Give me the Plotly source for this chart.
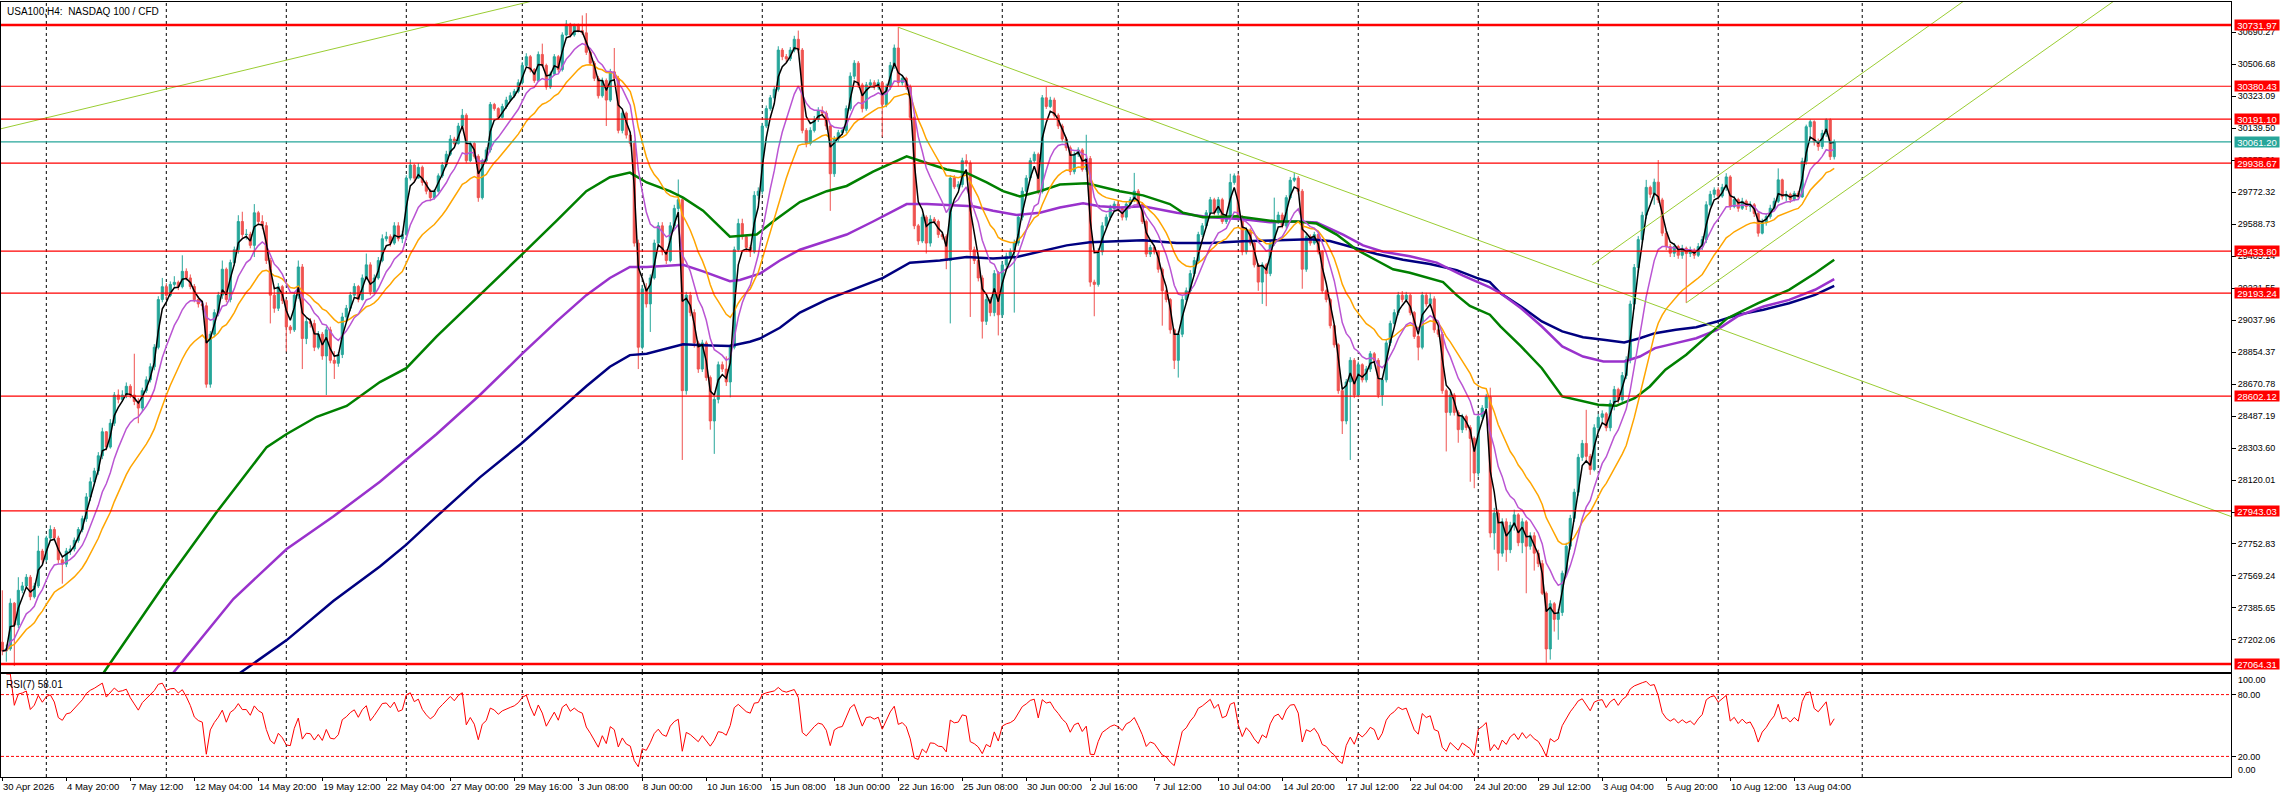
import numpy as np
import pandas as pd
import plotly.graph_objects as go

# ---- H4 bars (bar index 0 = 30 Apr 2026 04:00) ----
first_open = 27189
closes = [
    27139, 27151, 27413, 27288, 27487, 27512, 27562, 27450, 27512, 27712,
    27662, 27787, 27836, 27787, 27662, 27637, 27712, 27724, 27774, 27836,
    27898, 28023, 28110, 28172, 28259, 28397, 28309, 28446, 28608, 28583,
    28608, 28658, 28608, 28571, 28533, 28633, 28695, 28770, 28882, 29156,
    29230, 29180, 29243, 29255, 29230, 29318, 29280, 29231, 29156, 29131,
    29120, 28670, 28957, 29081, 29181, 29330, 29156, 29368, 29442, 29604,
    29529, 29530, 29467, 29654, 29604, 29580, 29380, 29181, 29106, 29230,
    29150, 28999, 28982, 29181, 29343, 28932, 29030, 29019, 28882, 28957,
    28832, 28982, 28807, 28790, 28840, 29056, 29106, 29181, 29231, 29156,
    29280, 29355, 29200, 29280, 29380, 29505, 29517, 29480, 29579, 29505,
    29530, 29853, 29928, 29853, 29915, 29828, 29778, 29741, 29778, 29866,
    29928, 29990, 30077, 30052, 30152, 30214, 29953, 30052, 29978, 29741,
    29953, 30015, 30276, 30252, 30202, 30264, 30301, 30326, 30351, 30401,
    30500, 30550, 30476, 30413, 30563, 30500, 30376, 30451, 30550, 30476,
    30675, 30737, 30675, 30725, 30700, 30687, 30575, 30513, 30426, 30326,
    30413, 30301, 30463, 30426, 30127, 30226, 30100, 30052, 29480, 28882,
    29218, 29131, 29280, 29480, 29579, 29430, 29380, 29579, 29679, 29729,
    28633, 29181, 29081, 28907, 28757, 28907, 28708, 28459, 28583, 28782,
    28757, 28683, 28882, 29442, 29592, 29517, 29455, 29430, 29754, 29778,
    30152, 30252, 30314, 30363, 30588, 30550, 30538, 30588, 30650, 30588,
    30127, 30052, 30127, 30189, 30239, 30226, 30152, 29878, 30077, 30114,
    30127, 30252, 30438, 30513, 30388, 30252, 30388, 30401, 30376, 30401,
    30276, 30376, 30500, 30600, 30401, 30426, 30376, 30202, 29579, 29492,
    29629, 29480, 29617, 29604, 29529, 29517, 29380, 29853, 29803, 29816,
    29953, 29940, 29442, 29380, 29280, 29031, 29156, 29081, 29305, 29068,
    29355, 29405, 29430, 29480, 29629, 29778, 29853, 29953, 29990, 29778,
    30314, 30264, 30301, 30214, 30152, 30077, 30027, 29890, 29990, 30015,
    29903, 29965, 29256, 29243, 29430, 29579, 29629, 29679, 29704, 29679,
    29629, 29704, 29729, 29778, 29704, 29604, 29417, 29455, 29430, 29330,
    29206, 29156, 28982, 28807, 28957, 29156, 29206, 29305, 29380, 29529,
    29579, 29654, 29729, 29654, 29729, 29604, 29629, 29828, 29866, 29629,
    29430, 29554, 29480, 29355, 29256, 29355, 29305, 29480, 29604, 29641,
    29579, 29741, 29841, 29853, 29778, 29330, 29517, 29480, 29529, 29430,
    29206, 29156, 29006, 28896, 28633, 28459, 28683, 28807, 28608, 28782,
    28695, 28757, 28845, 28807, 28608, 28695, 28907, 29019, 29081, 29181,
    29156, 29181, 29081, 28944, 28882, 29181, 29131, 29160, 28982, 28957,
    28633, 28508, 28608, 28508, 28409, 28484, 28421, 28359, 28160, 28484,
    28533, 28596, 27816, 27930, 27700, 27880, 27720, 27860, 27920, 27760,
    27880, 27740, 27800, 27700, 27640, 27470, 27150, 27410, 27320, 27360,
    27585, 27740, 27900, 28050, 28250, 28330, 28256, 28180, 28420, 28480,
    28500, 28420, 28560, 28640, 28580, 28720, 28810, 29130, 29340, 29500,
    29640, 29800, 29760, 29830, 29728, 29537, 29460, 29422, 29460, 29410,
    29450, 29420, 29440, 29410, 29460, 29500, 29700, 29760, 29785, 29750,
    29800, 29860, 29690, 29730, 29680, 29720, 29690, 29700, 29650, 29537,
    29600, 29632, 29680, 29720, 29843, 29747, 29760, 29730, 29766, 29745,
    29950, 30148, 30177, 30060, 30034, 30110, 30187, 29976, 30061.2,
]
highs = [
    27487, 27175, 27440, 27420, 27562, 27535, 27580, 27575, 27530, 27800,
    27725, 27800, 27860, 27850, 27800, 27680, 27730, 27745, 27790, 27850,
    27915, 28045, 28135, 28190, 28280, 28420, 28400, 28470, 28625, 28640,
    28635, 28680, 28670, 28845, 28590, 28650, 28715, 28790, 28900, 29175,
    29280, 29250, 29260, 29290, 29265, 29410, 29335, 29300, 29245, 29175,
    29150, 29140, 28975, 29100, 29200, 29380, 29340, 29385, 29460, 29640,
    29660, 29560, 29545, 29704, 29665, 29640, 29600, 29395, 29230, 29250,
    29240, 29160, 29010, 29200, 29380, 29360, 29050, 29050, 29040, 28975,
    28970, 29000, 29000, 28860, 28855, 29080, 29125, 29200, 29250, 29240,
    29300, 29420, 29370, 29300, 29400, 29530, 29545, 29530, 29600, 29600,
    29550, 29870, 29960, 29935, 29940, 29925, 29840, 29790, 29790, 29880,
    29945, 30010, 30100, 30090, 30170, 30250, 30225, 30065, 30060, 29990,
    29965, 30030, 30290, 30285, 30260, 30280, 30320, 30345, 30365, 30420,
    30520, 30570, 30560, 30485, 30580, 30625, 30510, 30465, 30565, 30560,
    30690, 30760, 30745, 30740, 30740, 30787, 30800, 30585, 30525, 30440,
    30430, 30425, 30480, 30600, 30440, 30240, 30235, 30120, 30070, 29500,
    29240, 29250, 29300, 29500, 29600, 29600, 29445, 29600, 29700, 29845,
    29750, 29200, 29200, 29100, 28920, 28925, 28920, 28720, 28600, 28800,
    28800, 28830, 28900, 29460, 29620, 29620, 29530, 29470, 29778, 29800,
    30170, 30270, 30330, 30380, 30610, 30600, 30565, 30605, 30670, 30700,
    30600, 30140, 30145, 30210, 30260, 30265, 30240, 30165, 30095, 30130,
    30145, 30270, 30460, 30530, 30525, 30400, 30405, 30420, 30415, 30420,
    30410, 30395, 30520, 30620, 30720, 30445, 30435, 30390, 30215, 29590,
    29645, 29640, 29640, 29630, 29615, 29540, 29530, 29870, 29870, 29835,
    29970, 29990, 29955, 29460, 29395, 29295, 29175, 29170, 29325, 29320,
    29375, 29425, 29450, 29500, 29645, 29800, 29870, 29970, 30005, 30000,
    30330, 30376, 30320, 30315, 30225, 30165, 30090, 30040, 30005, 30030,
    30025, 30102, 29980, 29270, 29450, 29600, 29645, 29700, 29720, 29720,
    29690, 29720, 29745, 29883, 29790, 29715, 29615, 29470, 29465, 29440,
    29340, 29215, 29165, 28990, 28975, 29175, 29225, 29325, 29400, 29545,
    29595, 29670, 29745, 29740, 29745, 29740, 29645, 29878, 29880, 29880,
    29640, 29570, 29565, 29490, 29365, 29370, 29365, 29495, 29741, 29660,
    29655, 29755, 29860, 29883, 29865, 29790, 29535, 29530, 29545, 29540,
    29440, 29215, 29165, 29015, 28905, 28645, 28700, 28825, 28820, 28800,
    28790, 28775, 28860, 28855, 28820, 28710, 28925, 29035, 29100, 29200,
    29205, 29200, 29190, 29090, 28955, 29200, 29195, 29195, 29175, 28995,
    28970, 28645, 28625, 28620, 28520, 28500, 28495, 28435, 28370, 28500,
    28550, 28615, 28650, 27960, 27950, 27900, 27900, 27880, 27950, 27930,
    27900, 27890, 27820, 27820, 27720, 27660, 27480, 27430, 27420, 27380,
    27600, 27760, 27920, 28070, 28270, 28350, 28523, 28270, 28440, 28500,
    28520, 28510, 28580, 28660, 28650, 28740, 28830, 29150, 29360, 29520,
    29660, 29843, 29810, 29850, 29957, 29740, 29550, 29475, 29480, 29470,
    29470, 29460, 29460, 29450, 29480, 29520, 29720, 29780, 29800, 29800,
    29820, 29881, 29870, 29750, 29740, 29740, 29730, 29720, 29710, 29660,
    29620, 29650, 29700, 29740, 29909, 29850, 29780, 29770, 29780, 29780,
    29970, 30160, 30190, 30185, 30080, 30130, 30196, 30196, 30075,
]
lows = [
    27114, 27077, 27140, 27052, 27270, 27470, 27500, 27430, 27440, 27500,
    27640, 27650, 27775, 27770, 27640, 27525, 27620, 27690, 27710, 27760,
    27820, 27880, 28000, 28090, 28150, 28240, 28290, 28300, 28430, 28560,
    28570, 28590, 28590, 28550, 28446, 28510, 28620, 28680, 28750, 28870,
    29140, 29160, 29170, 29230, 29210, 29220, 29265, 29215, 29140, 29110,
    29095, 28650, 28650, 28940, 29060, 29160, 29140, 29140, 29350, 29420,
    29510, 29500, 29450, 29400, 29585, 29560, 29360, 29019, 29080, 29090,
    29130, 28857, 28960, 28970, 29160, 28757, 28900, 28995, 28860, 28870,
    28810, 28608, 28790, 28700, 28770, 28820, 29030, 29090, 29165, 29140,
    29150, 29270, 29180, 29190, 29270, 29370, 29490, 29460, 29470, 29490,
    29480, 29520, 29840, 29830, 29850, 29810, 29760, 29720, 29730, 29770,
    29855, 29915, 29980, 30040, 30045, 30140, 29940, 29945, 29965, 29717,
    29730, 29940, 30000, 30240, 30190, 30195, 30250, 30290, 30315, 30340,
    30390, 30490, 30460, 30400, 30405, 30490, 30360, 30365, 30440, 30460,
    30465, 30665, 30660, 30665, 30690, 30675, 30560, 30500, 30410, 30310,
    30315, 30152, 30290, 30410, 30110, 30110, 30080, 30035, 29460, 28757,
    28870, 29110, 28970, 29270, 29470, 29410, 29360, 29370, 29560, 29660,
    28235, 28610, 29060, 28880, 28735, 28740, 28690, 28409, 28270, 28560,
    28740, 28660, 28595, 28870, 29430, 29500, 29430, 29400, 29420, 29730,
    29760, 30140, 30240, 30300, 30350, 30530, 30520, 30525, 30575, 30570,
    30110, 30030, 30040, 30115, 30175, 30205, 30130, 29665, 29860, 30060,
    30100, 30110, 30240, 30420, 30370, 30230, 30240, 30375, 30360, 30360,
    30090, 30260, 30360, 30480, 30380, 30385, 30360, 30185, 29560, 29470,
    29480, 29420, 29460, 29590, 29510, 29500, 29330, 29019, 29790, 29790,
    29800, 29920, 29056, 29360, 29260, 28932, 29010, 29060, 29060, 28950,
    29050, 29340, 29390, 29081, 29465, 29610, 29760, 29840, 29940, 29760,
    29765, 30250, 30255, 30200, 30135, 30060, 30010, 29870, 29875, 29975,
    29890, 29890, 29230, 29060, 29230, 29410, 29560, 29610, 29660, 29660,
    29610, 29610, 29690, 29715, 29690, 29590, 29400, 29400, 29415, 29310,
    29006, 29140, 28960, 28757, 28708, 28940, 29140, 29190, 29290, 29365,
    29515, 29565, 29640, 29640, 29640, 29590, 29590, 29615, 29815, 29610,
    29410, 29415, 29465, 29340, 29206, 29131, 29118, 29290, 29465, 29590,
    29565, 29565, 29730, 29830, 29760, 29218, 29315, 29465, 29470, 29415,
    29190, 29140, 28990, 28880, 28615, 28384, 28440, 28235, 28590, 28595,
    28680, 28680, 28740, 28790, 28590, 28546, 28680, 28890, 29005, 29065,
    29140, 29140, 29065, 28930, 28807, 28870, 29115, 29110, 28965, 28940,
    28615, 28284, 28490, 28490, 28334, 28390, 28405, 28110, 28073, 28140,
    28470, 28520, 27790, 27720, 27600, 27680, 27650, 27700, 27830, 27740,
    27700, 27470, 27720, 27600, 27620, 27460, 27070, 27089, 27250, 27203,
    27340, 27570, 27720, 27880, 28030, 28230, 28230, 28150, 28170, 28400,
    28450, 28400, 28400, 28520, 28560, 28560, 28700, 28790, 29100, 29310,
    29480, 29620, 29740, 29700, 29710, 29520, 29440, 29400, 29400, 29390,
    29390, 29137, 29400, 29390, 29400, 29440, 29480, 29690, 29740, 29730,
    29740, 29780, 29670, 29680, 29660, 29670, 29670, 29660, 29630, 29517,
    29530, 29580, 29620, 29670, 29710, 29730, 29720, 29710, 29720, 29730,
    29740, 29930, 30080, 30040, 30010, 30020, 30090, 29957, 29960,
]

# ---- long moving averages, sampled off the chart (bar, price) ----
green_x = [20, 26.1, 41, 53.6, 66.1, 71.1, 78.6, 86.1, 94.4, 101, 108.6, 119.4, 130, 138.6, 146,
           151.9, 156.9, 161.1, 166.9, 170.2, 175.2, 181.9, 188.6, 192.7, 199.4, 206.1, 211.1, 217.7,
           226.1, 231.1, 236.1, 241.1, 246.1, 250.2, 254.4, 259.4, 264.4, 271.1, 279.4, 285.2, 291.9,
           295.2, 300.2, 308.6, 314.4, 318.6, 323.6, 328.6, 333.6, 338.6, 343.6, 347.7, 351.9, 356.9,
           360.2, 363.6, 366.9, 371.9, 374.6, 379.7, 384.9, 390, 395.2, 399, 403.5, 408.1, 411.9,
           415.8, 421, 426.1, 431.3, 439, 446.7, 453.2, 458]
green_y = [26840, 27039, 27537, 27936, 28309, 28384, 28483, 28545, 28682, 28762, 28944, 29181, 29417,
           29609, 29778, 29858, 29885, 29828, 29778, 29741, 29666, 29517, 29529, 29604, 29716, 29778,
           29808, 29890, 29978, 29940, 29903, 29883, 29828, 29778, 29748, 29778, 29816, 29823, 29778,
           29754, 29704, 29654, 29629, 29634, 29617, 29604, 29604, 29592, 29529, 29442, 29380, 29330,
           29310, 29280, 29256, 29181, 29119, 29069, 29001, 28887, 28762, 28600, 28571, 28552, 28546,
           28590, 28657, 28753, 28839, 28944, 29049, 29135, 29212, 29307, 29384]

purple_x = [38, 43.6, 57.75, 71.1, 82.75, 94.4, 101, 108.6, 119.4, 130, 138.6, 146, 151.9, 156.9,
            161.1, 166.9, 170.2, 175.2, 181.9, 184.4, 189.4, 194.4, 199.4, 206.1, 211.1, 217.7, 226.1,
            231.1, 237.7, 242.7, 247.7, 253.6, 259.4, 264.4, 270.2, 274.4, 279.4, 285.2, 293.6, 301.9,
            310.2, 316.9, 323.6, 328.6, 335.2, 340.2, 345.2, 351.9, 358.6, 365.2, 371.9, 374.6, 379.7,
            384.9, 390, 395.2, 400.3, 405.5, 409.4, 413.2, 418.4, 423.5, 428.7, 433.8, 440.3, 446.7,
            453.2, 458]
purple_y = [26880, 27039, 27437, 27724, 27910, 28110, 28235, 28384, 28608, 28845, 29031, 29181, 29280,
            29343, 29343, 29350, 29355, 29318, 29261, 29268, 29305, 29380, 29442, 29492, 29529, 29604,
            29704, 29704, 29699, 29691, 29666, 29642, 29654, 29684, 29709, 29691, 29684, 29691, 29654,
            29629, 29617, 29599, 29604, 29599, 29529, 29467, 29430, 29405, 29368, 29293, 29226, 29192,
            29106, 29001, 28887, 28829, 28800, 28800, 28829, 28877, 28906, 28934, 28982, 29059, 29116,
            29154, 29212, 29273]

navy_x = [54, 61.1, 71.1, 82.75, 94.4, 101, 108.6, 119.4, 130, 138.6, 146, 151.9, 156.9, 161.1, 166.9,
          170.2, 175.2, 181.9, 186.9, 189.4, 194.4, 199.4, 206.1, 211.9, 220.2, 226.9, 234.4, 241.1,
          247.7, 253.6, 259.4, 266.1, 271.9, 279.4, 285.2, 293.6, 301.9, 310.2, 318.6, 326.9, 331.9,
          336.9, 343.6, 350.2, 356.9, 363.6, 368.6, 371.9, 374.6, 379.7, 384.9, 390, 395.2, 400.3,
          405.5, 409.4, 413.2, 418.4, 423.5, 428.7, 433.8, 440.3, 446.7, 453.2, 458]
navy_y = [26925, 27039, 27201, 27425, 27624, 27749, 27911, 28135, 28334, 28508, 28658, 28770, 28837,
          28845, 28882, 28899, 28894, 28889, 28914, 28932, 28994, 29081, 29156, 29206, 29280, 29367,
          29380, 29400, 29392, 29400, 29430, 29467, 29485, 29490, 29497, 29480, 29480, 29490, 29497,
          29502, 29492, 29460, 29417, 29385, 29360, 29325, 29280, 29256, 29192, 29116, 29030, 28973,
          28940, 28925, 28909, 28934, 28963, 28982, 28997, 29030, 29068, 29097, 29135, 29183, 29234]

# ---- drawn objects ----
levels = [30731.97, 30380.43, 30191.10, 29938.67, 29433.80, 29193.24, 28602.12, 27943.03, 27064.31]
thick_levels = [30731.97, 27064.31]
bid_price = 30061.20

trend_up_x, trend_up_y = [-10, 140], [30083, 30911]
trend_down_x, trend_down_y = [224, 560], [30719, 27887]
channel_a_x, channel_a_y = [397.5, 500], [29355, 31026]
channel_b_x, channel_b_y = [421, 530], [29137, 30903]

price_ticks = [30690.27, 30506.68, 30323.09, 30139.50, 29955.91, 29772.32, 29588.73, 29405.14,
               29221.55, 29037.96, 28854.37, 28670.78, 28487.19, 28303.60, 28120.01, 27936.42,
               27752.83, 27569.24, 27385.65, 27202.06]
date_labels = ["30 Apr 2026", "4 May 20:00", "7 May 12:00", "12 May 04:00", "14 May 20:00",
               "19 May 12:00", "22 May 04:00", "27 May 00:00", "29 May 16:00", "3 Jun 08:00",
               "8 Jun 00:00", "10 Jun 16:00", "15 Jun 08:00", "18 Jun 00:00", "22 Jun 16:00",
               "25 Jun 08:00", "30 Jun 00:00", "2 Jul 16:00", "7 Jul 12:00", "10 Jul 04:00",
               "14 Jul 20:00", "17 Jul 12:00", "22 Jul 04:00", "24 Jul 20:00", "29 Jul 12:00",
               "3 Aug 04:00", "5 Aug 20:00", "10 Aug 12:00", "13 Aug 04:00"]
week_starts = [11, 41, 71, 101, 130, 160, 190, 220, 250, 279, 309, 339, 369, 399, 429, 465]

# ---- derived series ----
n = len(closes)
bars = list(range(n))
opens = [first_open] + closes[:-1]
s = pd.Series(closes, dtype=float)
ma_fast = s.ewm(span=3, adjust=False).mean()
ma_mid = s.ewm(span=10, adjust=False).mean()
ma_slow = s.ewm(span=21, adjust=False).mean()
d = s.diff()
gain = d.clip(lower=0).ewm(alpha=1 / 7, adjust=False).mean()
loss = (-d.clip(upper=0)).ewm(alpha=1 / 7, adjust=False).mean()
rsi = 100 - 100 / (1 + gain / loss)

label_pos = [16 * k for k in range(len(date_labels))]
FONT = "Liberation Sans"
xr = [-0.33, 557.2]

fig = go.Figure()
fig.add_trace(go.Candlestick(
    x=bars, open=opens, high=highs, low=lows, close=closes,
    increasing=dict(line=dict(color="#26a69a", width=1), fillcolor="#26a69a"),
    decreasing=dict(line=dict(color="#ef5350", width=1), fillcolor="#ef5350"),
    whiskerwidth=0, showlegend=False, hoverinfo="skip"))

for xs, ys, col, w in [
    (navy_x, navy_y, "#000080", 2.5),
    (purple_x, purple_y, "#9932cc", 2.5),
    (green_x, green_y, "#008000", 2.5),
    (bars, ma_slow, "#ffa500", 1.5),
    (bars, ma_mid, "#ba55d3", 1.5),
    (bars, ma_fast, "#000000", 1.5),
]:
    fig.add_trace(go.Scatter(x=xs, y=ys, mode="lines", line=dict(color=col, width=w),
                             showlegend=False, hoverinfo="skip"))

for xs, ys in [(trend_up_x, trend_up_y), (trend_down_x, trend_down_y),
               (channel_a_x, channel_a_y), (channel_b_x, channel_b_y)]:
    fig.add_trace(go.Scatter(x=xs, y=ys, mode="lines", line=dict(color="#9acd32", width=1),
                             showlegend=False, hoverinfo="skip"))

fig.add_trace(go.Scatter(x=bars, y=rsi, mode="lines", line=dict(color="#ff0000", width=1),
                         xaxis="x2", yaxis="y2", showlegend=False, hoverinfo="skip"))

shapes = []
for w in week_starts:
    for xref, yref in [("x", "y domain"), ("x2", "y2 domain")]:
        shapes.append(dict(type="line", xref=xref, yref=yref, x0=w, x1=w, y0=0, y1=1, layer="below",
                           line=dict(color="black", width=1, dash="3px,3px")))
for lv in levels:
    shapes.append(dict(type="line", xref="x domain", yref="y", x0=0, x1=1, y0=lv, y1=lv,
                       line=dict(color="#ff0000", width=2.5 if lv in thick_levels else 1.2)))
shapes.append(dict(type="line", xref="x domain", yref="y", x0=0, x1=1, y0=bid_price, y1=bid_price,
                   line=dict(color="#26a69a", width=1.2)))
for lv in [80, 20]:
    shapes.append(dict(type="line", xref="x2 domain", yref="y2", x0=0, x1=1, y0=lv, y1=lv,
                       line=dict(color="#ff0000", width=1, dash="3px,2px")))

ann = []
box = dict(x=1, xref="paper", yref="y", showarrow=False, xanchor="left", yanchor="middle",
           xshift=3, width=44, height=10, borderpad=0, align="center", valign="middle",
           font=dict(family=FONT, size=9.5, color="white"))
for lv in levels:
    ann.append(dict(box, y=lv, text=f"{lv:.2f}", bgcolor="#ff0000"))
ann.append(dict(box, y=bid_price, text=f"{bid_price:.2f}", bgcolor="#26a69a"))
ann.append(dict(x=0, xref="paper", y=1, yref="paper", text="USA100,H4:\u00a0 NASDAQ 100 / CFD",
                showarrow=False, xanchor="left", yanchor="top", xshift=4, yshift=-2,
                font=dict(family=FONT, size=10, color="black")))
ann.append(dict(x=0, xref="paper", y=100, yref="y2", text="RSI(7) 58.01", showarrow=False,
                xanchor="left", yanchor="top", xshift=3, yshift=-3,
                font=dict(family=FONT, size=10, color="black")))
ann.append(dict(x=1, xref="paper", y=100, yref="y2", text="100.00", showarrow=False,
                xanchor="left", yanchor="top", xshift=5, yshift=1,
                font=dict(family=FONT, size=9, color="black")))
ann.append(dict(x=1, xref="paper", y=0, yref="y2", text="0.00", showarrow=False,
                xanchor="left", yanchor="bottom", xshift=5, yshift=0,
                font=dict(family=FONT, size=9, color="black")))
for p, t in zip(label_pos, date_labels):
    ann.append(dict(x=p, xref="x2", y=0, yref="paper", text=t, showarrow=False,
                    xanchor="left", yanchor="top", xshift=-1, yshift=-2,
                    font=dict(family=FONT, size=9.5, color="black")))

axis_common = dict(showgrid=False, zeroline=False, showline=True, mirror=True,
                   linecolor="black", linewidth=1)
fig.update_layout(
    width=2289, height=798,
    margin=dict(l=1, r=58, t=2, b=21),
    paper_bgcolor="white", plot_bgcolor="white",
    showlegend=False, boxgap=0.25,
    font=dict(family=FONT, size=9, color="black"),
    xaxis=dict(domain=[0, 1], range=xr, anchor="y", showticklabels=False,
               rangeslider=dict(visible=False), **axis_common),
    yaxis=dict(domain=[0.1355, 1], range=[27018, 30864], anchor="x", side="right",
               tickvals=price_ticks, ticktext=[f"{v:.2f}" for v in price_ticks],
               ticks="outside", ticklen=4, tickcolor="black", **axis_common),
    xaxis2=dict(domain=[0, 1], range=xr, anchor="y2", matches="x", tickvals=label_pos,
                showticklabels=False, ticks="outside", ticklen=3, tickcolor="black", **axis_common),
    yaxis2=dict(domain=[0, 0.1329], range=[0, 100], anchor="x2", side="right",
                tickvals=[80, 20], ticktext=["80.00", "20.00"], ticks="outside", ticklen=4,
                tickcolor="black", **axis_common),
    shapes=shapes, annotations=ann,
)

# the page body has a default margin; drop it so the figure sits at the window corner
fig.write_html("out.html", config={"displayModeBar": False},
               post_script="document.body.style.margin='0';document.body.style.overflow='hidden';")
